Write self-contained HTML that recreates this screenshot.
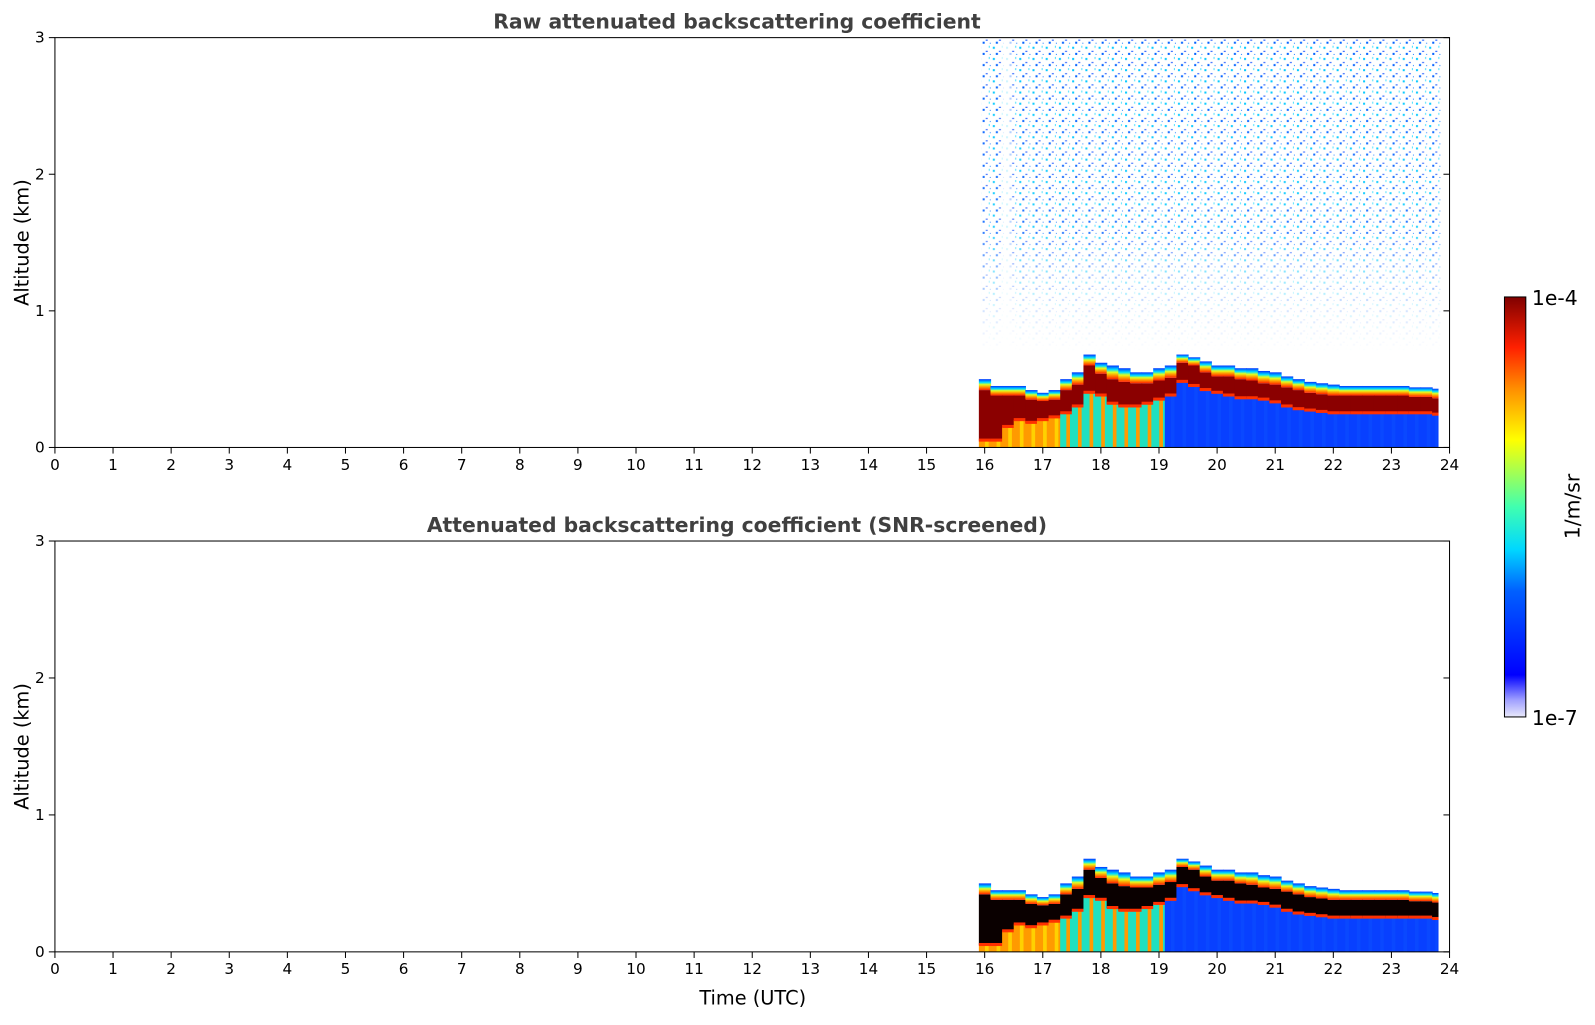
<!DOCTYPE html>
<html><head><meta charset="utf-8"><style>
html,body{margin:0;padding:0;background:#fff;}
svg text{font-family:"DejaVu Sans","Liberation Sans",sans-serif;}
</style></head><body>
<svg id="chart" width="1595" height="1020" viewBox="0 0 1568 1003" preserveAspectRatio="none" xmlns="http://www.w3.org/2000/svg">
<defs>
<linearGradient id="jetV" x1="0" y1="1" x2="0" y2="0">
<stop offset="0" stop-color="#e8e8fa"/><stop offset="0.04" stop-color="#a0a0ff"/><stop offset="0.1" stop-color="#0000ff"/>
<stop offset="0.3" stop-color="#0060ff"/><stop offset="0.4" stop-color="#00d8ff"/><stop offset="0.5" stop-color="#40ffb0"/>
<stop offset="0.6" stop-color="#b8ff40"/><stop offset="0.66" stop-color="#ffff00"/><stop offset="0.78" stop-color="#ff9000"/>
<stop offset="0.88" stop-color="#ff2000"/><stop offset="1" stop-color="#800000"/>
</linearGradient>
<linearGradient id="edge" x1="0" y1="1" x2="0" y2="0">
<stop offset="0" stop-color="#ff2000"/><stop offset="0.3" stop-color="#ffa000"/><stop offset="0.5" stop-color="#e0ff20"/>
<stop offset="0.7" stop-color="#00e0ff"/><stop offset="1" stop-color="#0030ff"/>
</linearGradient>
<pattern id="speck" width="13" height="11" patternUnits="userSpaceOnUse">
<rect x="1" y="2" width="2" height="2" fill="#00c8ff"/><rect x="7" y="6" width="2" height="1" fill="#1050ff"/>
<rect x="10" y="1" width="1" height="2" fill="#40e0ff"/><rect x="4" y="8" width="2" height="2" fill="#0060ff"/>
<rect x="11" y="9" width="1" height="1" fill="#2080ff"/>
</pattern>
<linearGradient id="fade" x1="0" y1="0" x2="0" y2="1">
<stop offset="0" stop-color="#fff" stop-opacity="0"/><stop offset="0.6" stop-color="#fff" stop-opacity="0.15"/><stop offset="0.85" stop-color="#fff" stop-opacity="0.8"/><stop offset="1" stop-color="#fff" stop-opacity="1"/>
</linearGradient>
</defs>
<g id="plots"></g>
<g>
<rect x="1479" y="292" width="21" height="413" fill="url(#jetV)" stroke="#000" stroke-width="1"/>
<text x="1506" y="300" font-size="20">1e-4</text>
<text x="1506" y="713" font-size="20">1e-7</text>
<text transform="translate(1553,498) rotate(-90)" text-anchor="middle" font-size="20">1/m/sr</text>
</g>
</svg>
<script>
const times=[15.9,16.1,16.3,16.5,16.7,16.9,17.1,17.3,17.5,17.7,17.9,18.1,18.3,18.5,18.7,18.9,19.1,19.3,19.5,19.7,19.9,20.1,20.3,20.5,20.7,20.9,21.1,21.3,21.5,21.7,21.9,22.1,22.3,22.5,22.7,22.9,23.1,23.3,23.5,23.7];
const layerTop=[0.5,0.45,0.45,0.45,0.42,0.4,0.42,0.5,0.55,0.68,0.62,0.6,0.58,0.55,0.55,0.58,0.6,0.68,0.66,0.63,0.6,0.6,0.58,0.58,0.56,0.55,0.52,0.5,0.48,0.47,0.46,0.45,0.45,0.45,0.45,0.45,0.45,0.44,0.44,0.43];
const redTop=[0.42,0.38,0.38,0.38,0.35,0.34,0.35,0.42,0.46,0.6,0.54,0.5,0.48,0.47,0.47,0.49,0.51,0.62,0.6,0.55,0.52,0.52,0.5,0.49,0.47,0.46,0.44,0.42,0.4,0.39,0.38,0.38,0.38,0.38,0.38,0.38,0.38,0.37,0.37,0.36];
const redBottom=[0.05,0.05,0.15,0.2,0.18,0.2,0.22,0.25,0.3,0.4,0.38,0.32,0.3,0.3,0.32,0.35,0.38,0.48,0.45,0.42,0.4,0.38,0.36,0.36,0.35,0.33,0.3,0.28,0.27,0.26,0.25,0.25,0.25,0.25,0.25,0.25,0.25,0.25,0.25,0.24];
const belowType=[0,0,0,0,0,0,0,1,1,1,1,1,1,1,1,1,2,2,2,2,2,2,2,2,2,2,2,2,2,2,2,2,2,2,2,2,2,2,2,2];
const xTicks=[0,1,2,3,4,5,6,7,8,9,10,11,12,13,14,15,16,17,18,19,20,21,22,23,24];
const yTicks=[0,1,2,3];
const binW=0.2, tEnd=23.8;
const NS="http://www.w3.org/2000/svg";
const g=document.getElementById('plots');
function mk(tag,attrs,parent){const e=document.createElementNS(NS,tag);for(const k in attrs)e.setAttribute(k,attrs[k]);(parent||g).appendChild(e);return e;}
const belowFill=[["#ff9a00","#ffd000"],["#20e0c0","#ff9a00"],["#0840ff","#0a48ff"]];
function panel(y0,y1,title,core,speckle,showXlabel,name){
  const L=54,R=1425;
  const X=t=>L+(R-L)*t/24;
  const Y=v=>y1-(y1-y0)*v/3;
  const pg=mk('g',{});
  
  
  if(speckle){
    const s=mk('rect',{x:X(15.95),y:y0,width:X(23.85)-X(15.95),height:Y(0.7)-y0,fill:'url(#speck)'},pg);
    
    
    mk('rect',{x:X(15.9),y:y0,width:X(23.9)-X(15.9),height:Y(0.7)-y0,fill:'url(#fade)'},pg);
    mk('rect',{x:X(16.3),y:y0,width:X(16.45)-X(16.3),height:Y(0.7)-y0,fill:'#fff',opacity:0.8},pg);
  }
  times.forEach((t,i)=>{
    const xa=X(t), xb=X(Math.min(t+binW,tEnd));
    const w=xb-xa+0.6;
    const cg=mk('g',{},pg);
    
    
    const bf=belowFill[belowType[i]];
    mk('rect',{x:xa,y:Y(redBottom[i]),width:w,height:Y(0)-Y(redBottom[i]),fill:bf[0]},cg);
    mk('rect',{x:xa+w*0.5,y:Y(redBottom[i]),width:w*0.3,height:Y(0)-Y(redBottom[i]),fill:bf[1]},cg);
    mk('rect',{x:xa,y:Y(redTop[i]),width:w,height:Y(redBottom[i])-Y(redTop[i]),fill:core},cg);
    mk('rect',{x:xa,y:Y(layerTop[i]),width:w,height:Y(redTop[i])-Y(layerTop[i]),fill:'url(#edge)'},cg);
    mk('rect',{x:xa,y:Y(redBottom[i])-2,width:w,height:3,fill:'#ff3000'},cg);
  });
  const fr=mk('rect',{x:L,y:y0,width:R-L,height:y1-y0,fill:'none',stroke:'#000','stroke-width':1},pg);
  
  
  xTicks.forEach(v=>{
    mk('line',{x1:X(v),x2:X(v),y1:y1,y2:y1+6,stroke:'#000'},pg);
    const tx=mk('text',{x:X(v),y:y1+22,'text-anchor':'middle','font-size':15},pg);
    tx.textContent=v;
    
    
  });
  yTicks.forEach(v=>{
    mk('line',{x1:L-6,x2:L,y1:Y(v),y2:Y(v),stroke:'#000'},pg);
    mk('line',{x1:R-6,x2:R,y1:Y(v),y2:Y(v),stroke:'#000'},pg);
    const ty=mk('text',{x:L-10,y:Y(v)+5,'text-anchor':'end','font-size':15},pg);
    ty.textContent=v;
    
    
  });
  const tt=mk('text',{x:(L+R)/2-15,y:y0-9,'text-anchor':'middle','font-size':20,'font-weight':'bold',fill:'#404040'},pg);
  tt.textContent=title;
  
  
  const yl=mk('text',{transform:`translate(28,${(y0+y1)/2}) rotate(-90)`,'text-anchor':'middle','font-size':19},pg);
  yl.textContent='Altitude (km)';
  
  
  if(showXlabel){
    const xl=mk('text',{x:740,y:y1+52,'text-anchor':'middle','font-size':19},pg);
    xl.textContent='Time (UTC)';
    
    
  }
}
panel(37,440,'Raw attenuated backscattering coefficient','#8b0000',true,false,'raw-backscatter-panel');
panel(532,936,'Attenuated backscattering coefficient (SNR-screened)','#0a0000',false,true,'screened-backscatter-panel');
</script>
</body></html>
